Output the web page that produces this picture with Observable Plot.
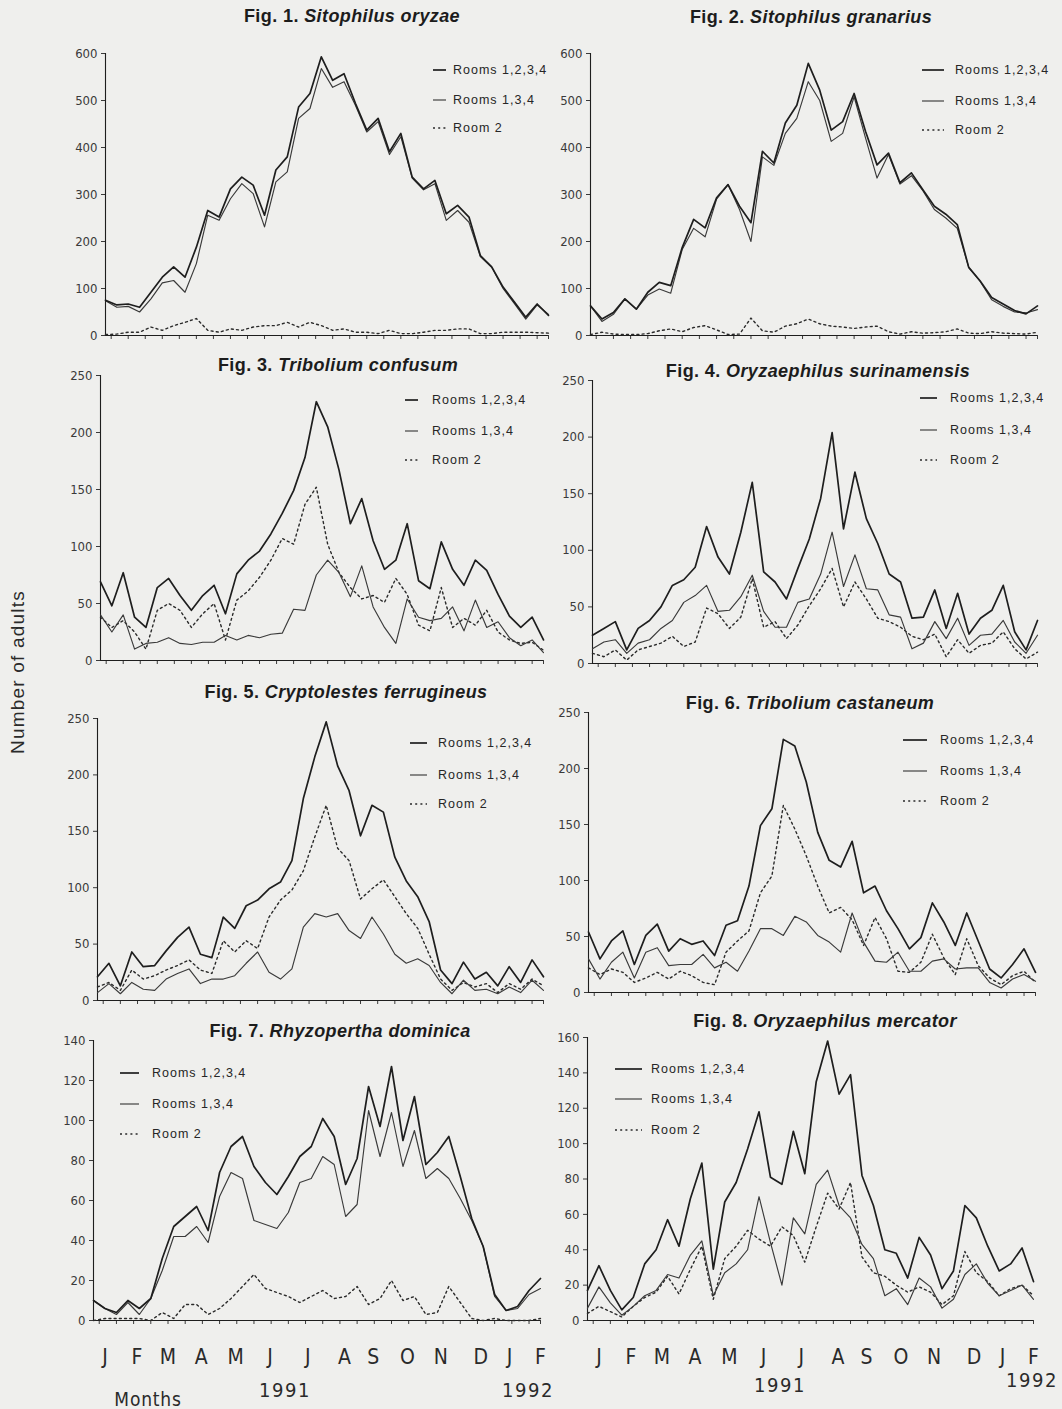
<!DOCTYPE html>
<html>
<head>
<meta charset="utf-8">
<script src="https://cdn.jsdelivr.net/npm/d3@7"></script>
<script src="https://cdn.jsdelivr.net/npm/@observablehq/plot@0.6"></script>
<style>
  html, body { margin: 0; padding: 0; }
  body { width: 1062px; height: 1409px; background: #efefed; position: relative; overflow: hidden;
         font-family: "Liberation Sans", Arial, sans-serif; color: #222; }
  .abs { position: absolute; white-space: nowrap; }
  .title { font-size: 18px; letter-spacing: 0.4px; font-weight: 700; color: #1c1c1c; transform: translate(-50%, -50%); }
  .title i { font-style: italic; }
  .leg { font-size: 12.5px; letter-spacing: 1px; color: #262626; transform: translateY(-50%); }
  .narrow { font-family: "Liberation Sans Narrow", "DejaVu Sans Condensed", "Liberation Sans", sans-serif; color: #2a2a2a; }
  svg.panel { position: absolute; overflow: visible; background: transparent; }
</style>
</head>
<body>
<script>
// ---------- data ----------
const months = ["J","F","M","A","M","J","J","A","S","O","N","D","J","F"];
const monthPos = [1, 3.8, 6.5, 9.4, 12.4, 15.4, 18.7, 21.9, 24.4, 27.4, 30.3, 33.8, 36.3, 39];
const fortnightTicks = [0.5,2,3.5,5,6.5,8,9.5,11,12.5,14,15.5,17,18.5,20,21.5,23,24.5,26,27.5,29,30.5,32,33.5,35,36.5,38,39];
const seriesNames = ["Rooms 1,2,3,4", "Rooms 1,3,4", "Room 2"];

const ticks600 = [0,100,200,300,400,500,600];
const ticks250 = [0,50,100,150,200,250];
const ticks140 = [0,20,40,60,80,100,120,140];
const ticks160 = [0,20,40,60,80,100,120,140,160];

// Fig. 1 Sitophilus oryzae
const p1All = [75,65,67,60,92,124,146,124,188,266,252,312,337,320,256,352,380,486,515,593,543,557,494,437,462,391,430,337,312,330,259,277,252,170,146,103,71,39,67,43];
const p1R134 = [74,60,62,50,78,112,117,92,153,256,245,291,323,302,231,327,348,462,483,568,528,540,490,433,455,385,423,335,310,323,245,266,241,168,145,100,68,35,65,45];
const p1R2 = [2,3,7,7,18,11,21,28,36,11,7,14,11,18,21,21,28,18,28,21,11,14,7,7,4,11,4,4,7,11,11,14,14,4,4,7,7,7,6,5];
// Fig. 2 Sitophilus granarius
const p2All = [63,35,49,78,56,92,113,106,187,247,229,293,321,275,240,392,367,452,490,579,522,437,455,515,434,363,388,325,346,310,275,258,236,145,116,81,67,53,46,63];
const p2R134 = [63,30,45,78,56,86,99,90,183,228,210,290,321,268,200,380,362,430,462,540,500,413,430,508,420,335,385,322,340,308,268,250,228,145,115,76,62,50,48,55];
const p2R2 = [2,7,3,2,2,4,10,14,8,17,21,12,2,3,37,10,7,20,25,35,25,20,18,15,18,20,8,3,8,5,6,8,14,5,4,8,5,4,3,7];
// Fig. 3 Tribolium confusum
const p3All = [69,48,77,38,29,64,72,57,44,57,66,41,76,88,96,111,129,149,178,227,205,167,120,142,105,80,88,120,70,63,104,80,66,88,79,58,39,29,38,18];
const p3R134 = [40,25,40,10,15,16,20,15,14,16,16,22,18,22,20,23,24,45,44,75,88,77,56,83,47,29,15,54,38,35,37,47,26,53,29,34,20,13,18,7];
const p3R2 = [38,29,35,25,10,44,50,44,29,41,50,18,53,61,73,88,107,102,137,152,102,77,64,54,57,51,72,58,31,26,64,29,37,31,44,25,18,15,16,9];
// Fig. 4 Oryzaephilus surinamensis
const p4All = [25,31,37,12,31,38,50,69,74,85,121,94,79,116,160,81,72,57,84,110,146,204,119,169,128,106,79,72,40,41,65,31,62,26,40,47,69,28,12,38];
const p4R134 = [13,19,21,9,18,21,31,38,54,60,69,46,47,59,78,46,32,32,54,57,79,116,68,96,66,65,43,41,13,18,37,22,40,16,25,26,38,19,9,25];
const p4R2 = [9,6,12,3,12,15,18,24,15,19,49,44,31,41,75,32,37,22,34,51,66,84,50,72,57,40,37,32,24,21,26,6,21,9,16,18,28,13,4,10];
// Fig. 5 Cryptolestes ferrugineus
const p5All = [21,33,13,43,30,31,44,56,65,41,38,74,64,84,89,99,105,124,179,216,247,208,186,146,173,167,127,106,92,70,27,15,34,19,25,13,30,16,36,21];
const p5R134 = [7,15,6,16,10,9,19,24,28,15,19,19,22,33,43,25,19,28,65,77,74,77,62,55,74,59,41,33,37,31,16,6,18,9,10,6,12,7,18,9];
const p5R2 = [12,16,9,27,19,22,27,31,36,27,24,53,43,53,46,74,89,98,115,145,173,135,124,90,99,107,92,77,64,41,19,9,16,12,15,7,15,10,19,13];
// Fig. 6 Tribolium castaneum
const p6All = [54,30,46,55,25,51,61,37,48,43,46,33,60,64,95,149,164,226,220,188,143,118,112,135,89,95,73,57,39,49,80,63,42,71,46,21,13,25,39,18];
const p6R134 = [30,12,27,36,13,36,40,24,25,25,34,22,27,19,37,57,57,51,68,63,51,45,36,71,45,28,27,36,19,19,28,30,21,22,22,9,4,12,16,10];
const p6R2 = [22,16,21,18,9,13,18,12,19,15,9,7,36,46,55,89,104,167,146,122,95,71,76,65,42,67,48,19,18,27,52,31,16,48,24,13,7,15,19,9];
// Fig. 7 Rhyzopertha dominica
const p7All = [10,6,4,10,6,11,31,47,52,57,45,74,87,92,77,69,63,72,82,87,101,92,68,81,117,97,127,90,112,78,84,92,72,51,37,13,5,7,15,21];
const p7R134 = [10,6,3,9,3,11,25,42,42,47,39,62,74,71,50,48,46,54,69,71,82,78,52,58,105,82,104,77,95,71,76,71,61,50,37,12,5,6,13,16];
const p7R2 = [0,1,1,1,1,0,4,1,8,8,3,6,11,17,23,16,14,12,9,12,15,11,12,17,8,11,20,10,12,3,4,17,9,1,0,1,0,0,0,1];
// Fig. 8 Oryzaephilus mercator
const p8All = [17,31,17,6,13,32,40,57,42,69,89,29,67,78,97,118,81,77,107,83,135,158,128,139,82,65,40,38,24,47,37,18,28,65,58,42,28,32,41,22];
const p8R134 = [7,19,10,3,8,14,17,26,24,37,45,14,27,32,40,70,44,20,58,49,77,85,65,58,43,35,14,18,9,24,19,7,12,26,32,21,14,17,20,12];
const p8R2 = [4,8,5,2,8,13,16,25,15,29,42,12,35,42,51,46,42,53,48,33,53,72,63,78,36,27,25,20,16,19,16,9,14,39,27,22,14,18,20,14];

const figLabels = ["Fig. 1.","Fig. 2.","Fig. 3.","Fig. 4.","Fig. 5.","Fig. 6.","Fig. 7.","Fig. 8."];
const species = ["Sitophilus oryzae","Sitophilus granarius","Tribolium confusum","Oryzaephilus surinamensis",
                 "Cryptolestes ferrugineus","Tribolium castaneum","Rhyzopertha dominica","Oryzaephilus mercator"];

// ---------- layout ----------
const layout = [
  {left:105, right:548, top:53,  zero:335,  titleX:352, titleY:16,   leg:{x1:433,x2:446,tx:453,y:[70,100,128]}},
  {left:590, right:1037,top:53,  zero:335,  titleX:811, titleY:17,   leg:{x1:922,x2:944,tx:955,y:[70,101,130]}},
  {left:100, right:543, top:375, zero:660,  titleX:338, titleY:365,  leg:{x1:405,x2:418,tx:432,y:[400,431,460]}},
  {left:592, right:1037,top:380, zero:663,  titleX:818, titleY:371,  leg:{x1:920,x2:937,tx:950,y:[398,430,460]}},
  {left:97,  right:543, top:718, zero:1000, titleX:346, titleY:692,  leg:{x1:410,x2:427,tx:438,y:[743,775,804]}},
  {left:588, right:1035,top:712, zero:992,  titleX:810, titleY:703,  leg:{x1:903,x2:927,tx:940,y:[740,771,801]}},
  {left:93,  right:540, top:1040,zero:1320, titleX:340, titleY:1031, leg:{x1:120,x2:139,tx:152,y:[1073,1104,1134]}},
  {left:587, right:1033,top:1037,zero:1320, titleX:825, titleY:1021, leg:{x1:615,x2:642,tx:651,y:[1069,1099,1130]}}
];

const panelData = [
  [p1All,p1R134,p1R2,ticks600],[p2All,p2R134,p2R2,ticks600],
  [p3All,p3R134,p3R2,ticks250],[p4All,p4R134,p4R2,ticks250],
  [p5All,p5R134,p5R2,ticks250],[p6All,p6R134,p6R2,ticks250],
  [p7All,p7R134,p7R2,ticks140],[p8All,p8R134,p8R2,ticks160]
];

const ink = "#1e1e1e";
const styles = [
  {stroke: ink, strokeWidth: 1.7},
  {stroke: "#3a3a3a", strokeWidth: 1.15},
  {stroke: "#2a2a2a", strokeWidth: 1.4, strokeDasharray: "2,3.2"}
];

function addDiv(html, cls, x, y, extra) {
  const d = document.createElement("div");
  d.className = "abs " + cls;
  d.style.left = x + "px";
  d.style.top = y + "px";
  if (extra) Object.assign(d.style, extra);
  d.innerHTML = html;
  document.body.appendChild(d);
  return d;
}

panelData.forEach(([all, r134, r2, yTicks], k) => {
  const L = layout[k];
  const bottom = k >= 6;
  const ml = 45, mr = 8, mt = 14, mb = bottom ? 60 : 12;
  const width = (L.right - L.left) + ml + mr;
  const height = (L.zero - L.top) + mt + mb;
  const ymax = yTicks[yTicks.length - 1];

  const marks = [
    Plot.ruleX([0], {y1: 0, y2: ymax, stroke: ink, strokeWidth: 1.1}),
    Plot.ruleY([0], {x1: 0, x2: 39, stroke: ink, strokeWidth: 1.1}),
    Plot.lineY(r2, {...styles[2]}),
    Plot.lineY(r134, {...styles[1]}),
    Plot.lineY(all, {...styles[0]})
  ];
  if (bottom) {
    marks.push(Plot.text(months, {
      x: (d, i) => monthPos[i], frameAnchor: "bottom", dy: 43, fontSize: 21,
      fontFamily: "Liberation Sans Narrow, DejaVu Sans Condensed, sans-serif", fill: "#2a2a2a"
    }));
  }

  const svg = Plot.plot({
    width, height,
    marginLeft: ml, marginRight: mr, marginTop: mt, marginBottom: mb,
    style: {background: "transparent", fontSize: "13px", color: "#3a3a3a",
            fontFamily: "DejaVu Sans Condensed, Liberation Sans, sans-serif"},
    x: {domain: [0, 39], ticks: fortnightTicks, tickFormat: () => "", tickSize: 4, label: null},
    y: {domain: [0, ymax], ticks: yTicks, tickSize: 4, tickPadding: 4, label: null},
    marks
  });
  svg.classList.add("panel");
  svg.style.left = (L.left - ml) + "px";
  svg.style.top = (L.top - mt) + "px";
  document.body.appendChild(svg);

  // title
  addDiv(`${figLabels[k]} <i>${species[k]}</i>`, "title", L.titleX, L.titleY);

  // legend
  seriesNames.forEach((name, j) => {
    const st = styles[j];
    const len = L.leg.x2 - L.leg.x1;
    const s = document.createElementNS("http://www.w3.org/2000/svg", "svg");
    s.setAttribute("width", len + 2);
    s.setAttribute("height", 6);
    s.style.position = "absolute";
    s.style.left = (L.leg.x1 - 1) + "px";
    s.style.top = (L.leg.y[j] - 3) + "px";
    s.innerHTML = `<line x1="1" x2="${len + 1}" y1="3" y2="3" stroke="${st.stroke}" stroke-width="${st.strokeWidth}" ${st.strokeDasharray ? `stroke-dasharray="${st.strokeDasharray}"` : ""}/>`;
    document.body.appendChild(s);
    addDiv(name, "leg", L.leg.tx, L.leg.y[j]);
  });
});

// shared labels
addDiv("Number of adults", "", 18, 672, {
  fontSize: "19px", letterSpacing: "1.2px", color: "#2a2a2a",
  transform: "translate(-50%, -50%) rotate(-90deg)"
});
addDiv("Months", "narrow", 148, 1399, {fontSize: "19px", letterSpacing: "0.8px", transform: "translate(-50%, -50%)"});
addDiv("1991", "narrow", 285, 1390, {fontSize: "20px", letterSpacing: "1.5px", transform: "translate(-50%, -50%)"});
addDiv("1992", "narrow", 528, 1390, {fontSize: "20px", letterSpacing: "1.5px", transform: "translate(-50%, -50%)"});
addDiv("1991", "narrow", 780, 1385, {fontSize: "20px", letterSpacing: "1.5px", transform: "translate(-50%, -50%)"});
addDiv("1992", "narrow", 1032, 1380, {fontSize: "20px", letterSpacing: "1.5px", transform: "translate(-50%, -50%)"});
</script>
</body>
</html>
